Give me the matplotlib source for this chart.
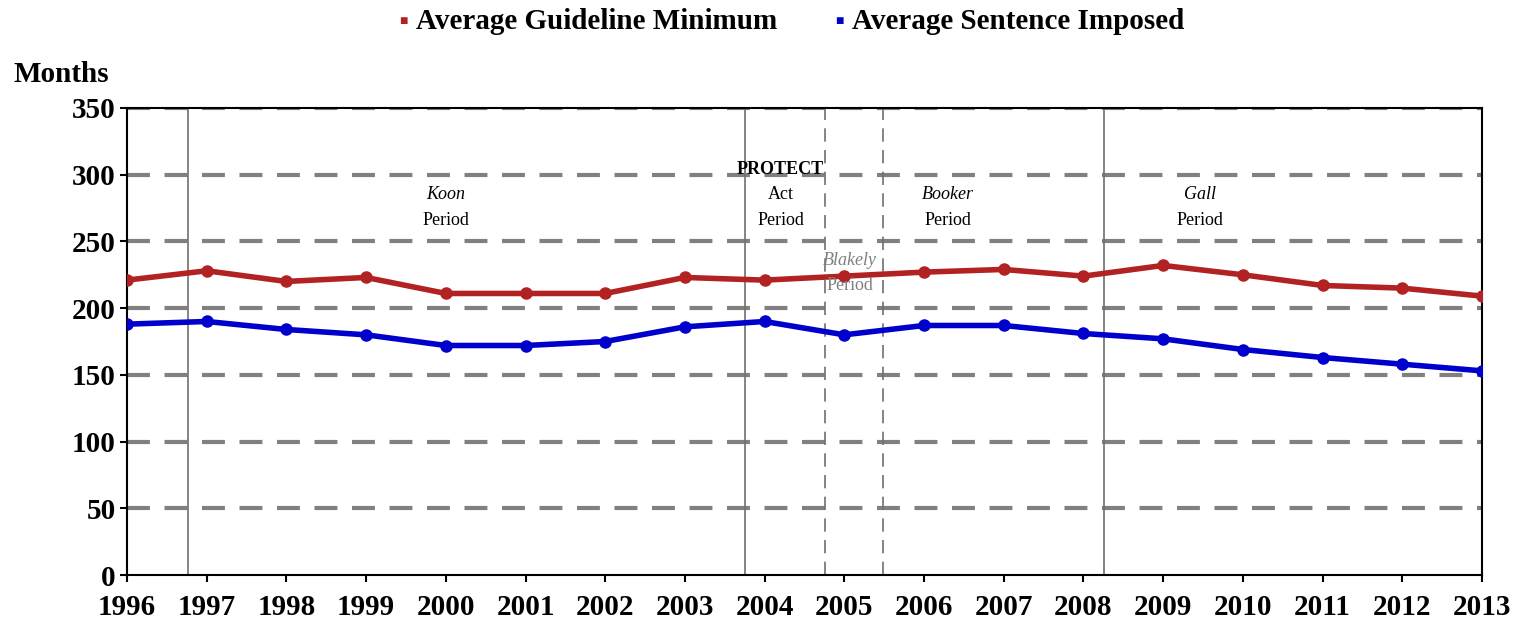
import matplotlib
matplotlib.use('Agg')
from matplotlib import pyplot as plt

years = list(range(1996, 2014))
guideline_min = [221, 228, 220, 223, 211, 211, 211, 223, 221, 224, 227, 229, 224, 232, 225, 217, 215, 209]
sentence_imposed = [188, 190, 184, 180, 172, 172, 175, 186, 190, 180, 187, 187, 181, 177, 169, 163, 158, 153]

# period boundaries (solid = major decisions, dashed = Blakely)
solid_lines = [1996.77, 2003.75, 2008.26]
dashed_lines = [2004.76, 2005.49]

plt.rcParams['font.family'] = ['Liberation Serif', 'DejaVu Serif']

fig = plt.figure(figsize=(15.19, 6.25), dpi=100)
ax = fig.add_axes([0.0836, 0.08, 0.892, 0.7472])

for y in range(50, 351, 50):
    ax.axhline(y, color='#808080', lw=3, ls=(0, (5.5, 3.5)), zorder=1)
for x in solid_lines:
    ax.axvline(x, color='#707070', lw=1.2, zorder=1)
for x in dashed_lines:
    ax.axvline(x, color='#707070', lw=1.2, ls=(0, (8, 5)), zorder=1)

ax.plot(years, guideline_min, color='#b22222', lw=4, marker='o', ms=8, zorder=3)
ax.plot(years, sentence_imposed, color='#0000cc', lw=4, marker='o', ms=8, zorder=3)

ax.set_xlim(1996, 2013)
ax.set_ylim(0, 350)
ax.set_xticks(years)
ax.set_yticks(range(0, 351, 50))
ax.tick_params(labelsize=21, length=5, width=1.5)
ax.tick_params(axis='x', pad=9)
ax.tick_params(axis='y', pad=3)
for lab in ax.get_xticklabels() + ax.get_yticklabels():
    lab.set_fontweight('bold')
for s in ax.spines.values():
    s.set_linewidth(1.5)

fs = 13
ax.text(2000.0, 285, 'Koon', style='italic', ha='center', va='center', fontsize=fs)
ax.text(2000.0, 266, 'Period', ha='center', va='center', fontsize=fs)
ax.text(2004.2, 304, 'PROTECT', ha='center', va='center', fontsize=fs, fontweight='bold')
ax.text(2004.2, 285, 'Act', ha='center', va='center', fontsize=fs)
ax.text(2004.2, 266, 'Period', ha='center', va='center', fontsize=fs)
ax.text(2006.3, 285, 'Booker', style='italic', ha='center', va='center', fontsize=fs)
ax.text(2006.3, 266, 'Period', ha='center', va='center', fontsize=fs)
ax.text(2009.46, 285, 'Gall', style='italic', ha='center', va='center', fontsize=fs)
ax.text(2009.46, 266, 'Period', ha='center', va='center', fontsize=fs)
ax.text(2005.07, 236, 'Blakely', style='italic', ha='center', va='center', fontsize=fs, color='#808080')
ax.text(2005.07, 217, 'Period', ha='center', va='center', fontsize=fs, color='#808080')

fig.text(0.009, 0.88, 'Months', fontsize=21, fontweight='bold', va='center')

fig.text(0.263, 0.965, '\u25a0', color='#b22222', fontsize=10, va='center')
fig.text(0.274, 0.965, 'Average Guideline Minimum', fontsize=21, fontweight='bold', va='center')
fig.text(0.55, 0.965, '\u25a0', color='#0000cc', fontsize=10, va='center')
fig.text(0.561, 0.965, 'Average Sentence Imposed', fontsize=21, fontweight='bold', va='center')

fig.savefig('out.png', dpi=100)
